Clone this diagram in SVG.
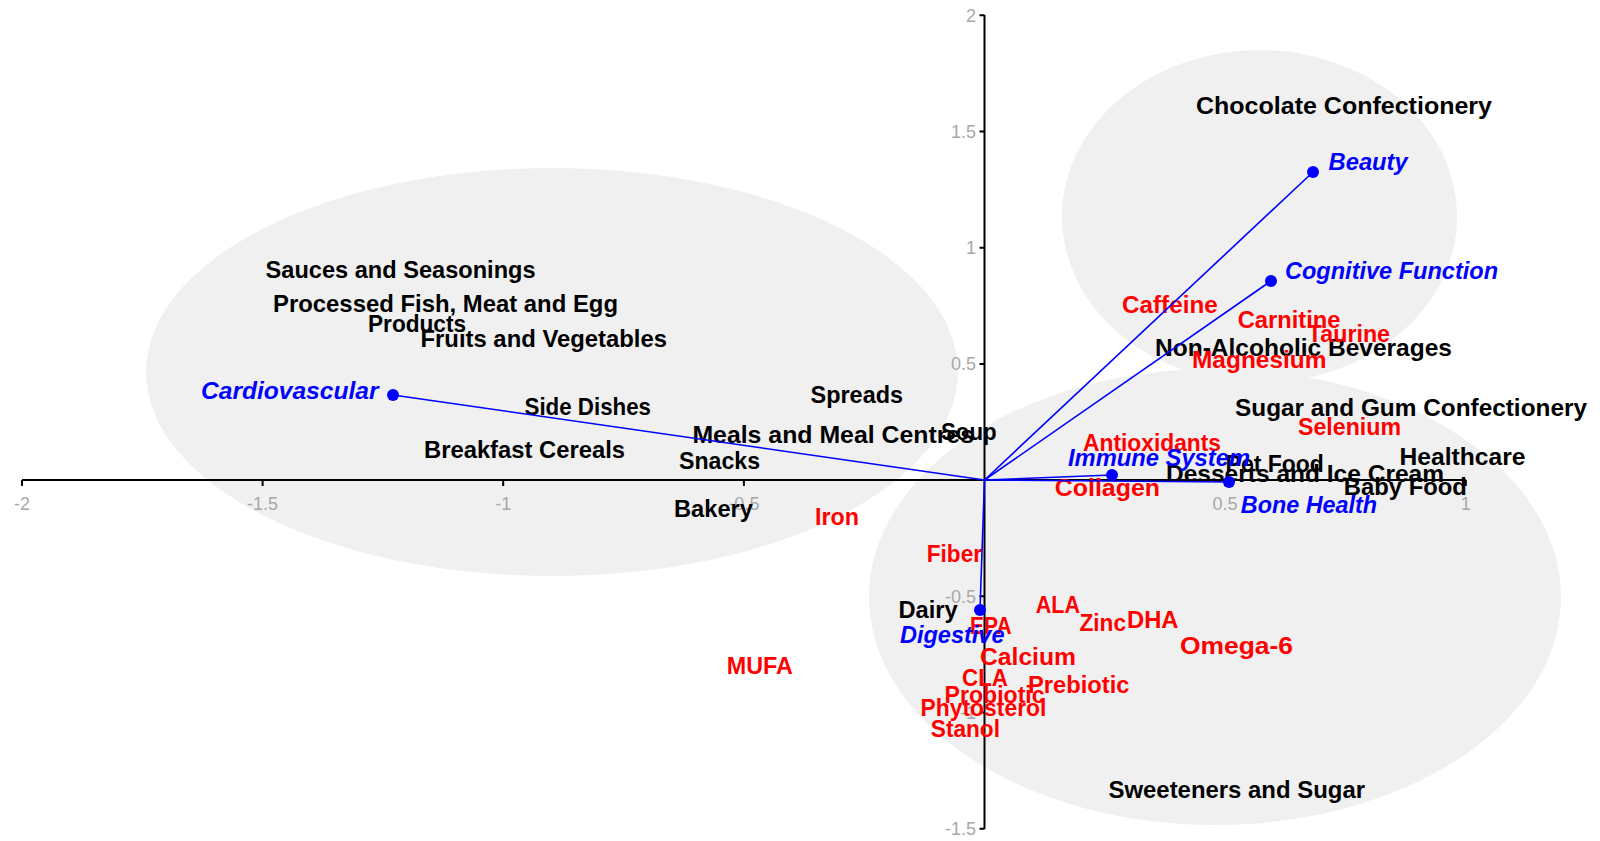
<svg xmlns="http://www.w3.org/2000/svg" width="1600" height="841" viewBox="0 0 1600 841">
  <style>
    text { font-family: "Liberation Sans", Arial, sans-serif; font-weight: bold; font-size: 24px; }
    .cat { fill: #000000; }
    .ing { fill: #ff0000; }
    .ben { fill: #0000ff; font-style: italic; }
    .tick { fill: #a8a8a8; font-weight: normal; font-size: 18px; }
    .ytick { text-anchor: end; }
    .xtick { text-anchor: middle; }
    .zone { fill: #f0f0f0; stroke: none; }
    .axis { stroke: #000000; stroke-width: 2; fill: none; }
    .vec { stroke: #0000ff; stroke-width: 1.6; fill: none; }
    .dot { fill: #0000ff; }
  </style>

  <!-- cluster zones -->
  <g id="zones">
    <ellipse class="zone" cx="552" cy="372" rx="406" ry="204"/>
    <ellipse class="zone" cx="1259.5" cy="216.5" rx="197.5" ry="166.5"/>
    <ellipse class="zone" cx="1215" cy="597" rx="346" ry="228"/>
  </g>

  <!-- axes with ticks -->
  <g id="axes">
    <path class="axis" d="M22 480 H1466 M984.5 15 V829"/>
    <path class="axis" d="M22 480 v6 M262.6 480 v6 M503.2 480 v6 M743.9 480 v6 M1225 480 v6 M1465.8 480 v6"/>
    <path class="axis" d="M984.5 15.3 h-5 M984.5 131.5 h-5 M984.5 247.7 h-5 M984.5 363.9 h-5 M984.5 596.3 h-5 M984.5 712.5 h-5 M984.5 828.7 h-5"/>
    <text class="tick xtick" x="22" y="510">-2</text>
    <text class="tick xtick" x="262.6" y="510">-1.5</text>
    <text class="tick xtick" x="503.2" y="510">-1</text>
    <text class="tick xtick" x="743.9" y="510">-0.5</text>
    <text class="tick xtick" x="1225" y="510">0.5</text>
    <text class="tick xtick" x="1465.8" y="510">1</text>
    <text class="tick ytick" x="976" y="21.8">2</text>
    <text class="tick ytick" x="976" y="138">1.5</text>
    <text class="tick ytick" x="976" y="254.2">1</text>
    <text class="tick ytick" x="976" y="370.4">0.5</text>
    <text class="tick ytick" x="976" y="602.8">-0.5</text>
    <text class="tick ytick" x="976" y="719">-1</text>
    <text class="tick ytick" x="976" y="835.2">-1.5</text>
  </g>

  <!-- product categories -->
  <g id="categories" transform="translate(0 1.5)">
    <g id="cat-chocolate"><text class="cat" x="1196" y="112" textLength="296" lengthAdjust="spacingAndGlyphs">Chocolate Confectionery</text></g>
    <g id="cat-sauces"><text class="cat" x="265.6" y="276" textLength="270" lengthAdjust="spacingAndGlyphs">Sauces and Seasonings</text></g>
    <g id="cat-processed">
      <text class="cat" x="273" y="310" textLength="345" lengthAdjust="spacingAndGlyphs">Processed Fish, Meat and Egg</text>
      <text class="cat" x="368" y="330" textLength="98" lengthAdjust="spacingAndGlyphs">Products</text>
    </g>
    <g id="cat-fruits"><text class="cat" x="420.5" y="345" textLength="246.5" lengthAdjust="spacingAndGlyphs">Fruits and Vegetables</text></g>
    <g id="cat-side"><text class="cat" x="524.5" y="413" textLength="126.5" lengthAdjust="spacingAndGlyphs">Side Dishes</text></g>
    <g id="cat-breakfast"><text class="cat" x="424" y="456" textLength="201" lengthAdjust="spacingAndGlyphs">Breakfast Cereals</text></g>
    <g id="cat-spreads"><text class="cat" x="810.6" y="401" textLength="92.4" lengthAdjust="spacingAndGlyphs">Spreads</text></g>
    <g id="cat-meals"><text class="cat" x="692.4" y="441" textLength="281.6" lengthAdjust="spacingAndGlyphs">Meals and Meal Centres</text></g>
    <g id="cat-soup"><text class="cat" x="941" y="438" textLength="55.6" lengthAdjust="spacingAndGlyphs">Soup</text></g>
    <g id="cat-snacks"><text class="cat" x="679" y="467" textLength="81" lengthAdjust="spacingAndGlyphs">Snacks</text></g>
    <g id="cat-bakery"><text class="cat" x="674" y="515" textLength="79" lengthAdjust="spacingAndGlyphs">Bakery</text></g>
    <g id="cat-sugar-gum"><text class="cat" x="1235" y="414" textLength="352" lengthAdjust="spacingAndGlyphs">Sugar and Gum Confectionery</text></g>
    <g id="cat-healthcare"><text class="cat" x="1399.5" y="463" textLength="126" lengthAdjust="spacingAndGlyphs">Healthcare</text></g>
    <g id="cat-pet"><text class="cat" x="1225.6" y="470" textLength="98.2" lengthAdjust="spacingAndGlyphs">Pet Food</text></g>
    <g id="cat-desserts"><text class="cat" x="1166" y="480" textLength="278" lengthAdjust="spacingAndGlyphs">Desserts and Ice Cream</text></g>
    <g id="cat-baby"><text class="cat" x="1343.8" y="493" textLength="123" lengthAdjust="spacingAndGlyphs">Baby Food</text></g>
    <g id="cat-beverages"><text class="cat" x="1155" y="354" textLength="297" lengthAdjust="spacingAndGlyphs">Non-Alcoholic Beverages</text></g>
    <g id="cat-dairy"><text class="cat" x="898.4" y="616" textLength="59.2" lengthAdjust="spacingAndGlyphs">Dairy</text></g>
    <g id="cat-sweeteners"><text class="cat" x="1108.5" y="796" textLength="256.5" lengthAdjust="spacingAndGlyphs">Sweeteners and Sugar</text></g>
  </g>

  <!-- ingredients -->
  <g id="ingredients" transform="translate(0 1.5)">
    <g id="ing-caffeine"><text class="ing" x="1122" y="311" textLength="95.7" lengthAdjust="spacingAndGlyphs">Caffeine</text></g>
    <g id="ing-carnitine"><text class="ing" x="1237.7" y="326" textLength="102.8" lengthAdjust="spacingAndGlyphs">Carnitine</text></g>
    <g id="ing-taurine"><text class="ing" x="1307.8" y="340" textLength="82.2" lengthAdjust="spacingAndGlyphs">Taurine</text></g>
    <g id="ing-magnesium"><text class="ing" x="1192" y="366" textLength="134.5" lengthAdjust="spacingAndGlyphs">Magnesium</text></g>
    <g id="ing-selenium"><text class="ing" x="1298" y="433" textLength="103" lengthAdjust="spacingAndGlyphs">Selenium</text></g>
    <g id="ing-antioxidants"><text class="ing" x="1083" y="449" textLength="138" lengthAdjust="spacingAndGlyphs">Antioxidants</text></g>
    <g id="ing-collagen"><text class="ing" x="1054.8" y="494" textLength="105.2" lengthAdjust="spacingAndGlyphs">Collagen</text></g>
    <g id="ing-iron"><text class="ing" x="815" y="523" textLength="44" lengthAdjust="spacingAndGlyphs">Iron</text></g>
    <g id="ing-fiber"><text class="ing" x="926.8" y="560" textLength="55.2" lengthAdjust="spacingAndGlyphs">Fiber</text></g>
    <g id="ing-ala"><text class="ing" x="1035.7" y="611" textLength="44.3" lengthAdjust="spacingAndGlyphs">ALA</text></g>
    <g id="ing-zinc"><text class="ing" x="1079.4" y="629" textLength="46.6" lengthAdjust="spacingAndGlyphs">Zinc</text></g>
    <g id="ing-dha"><text class="ing" x="1127" y="626" textLength="51.5" lengthAdjust="spacingAndGlyphs">DHA</text></g>
    <g id="ing-omega6"><text class="ing" x="1180" y="652" textLength="113" lengthAdjust="spacingAndGlyphs">Omega-6</text></g>
    <g id="ing-epa"><text class="ing" x="970" y="632" textLength="41.6" lengthAdjust="spacingAndGlyphs">EPA</text></g>
    <g id="ing-calcium"><text class="ing" x="980" y="663" textLength="96" lengthAdjust="spacingAndGlyphs">Calcium</text></g>
    <g id="ing-cla"><text class="ing" x="962" y="684" textLength="46" lengthAdjust="spacingAndGlyphs">CLA</text></g>
    <g id="ing-prebiotic"><text class="ing" x="1028" y="691" textLength="101.4" lengthAdjust="spacingAndGlyphs">Prebiotic</text></g>
    <g id="ing-probiotic"><text class="ing" x="944.6" y="701" textLength="100" lengthAdjust="spacingAndGlyphs">Probiotic</text></g>
    <g id="ing-phytosterol"><text class="ing" x="920.5" y="714" textLength="125.9" lengthAdjust="spacingAndGlyphs">Phytosterol</text></g>
    <g id="ing-stanol"><text class="ing" x="930.8" y="735" textLength="69.2" lengthAdjust="spacingAndGlyphs">Stanol</text></g>
    <g id="ing-mufa"><text class="ing" x="726.8" y="672" textLength="66.1" lengthAdjust="spacingAndGlyphs">MUFA</text></g>
  </g>

  <!-- benefit vectors from the origin -->
  <g id="connectors">
    <line class="vec" x1="984.5" y1="480" x2="393" y2="395"/>
    <line class="vec" x1="984.5" y1="480" x2="1313" y2="172"/>
    <line class="vec" x1="984.5" y1="480" x2="1271" y2="281"/>
    <line class="vec" x1="984.5" y1="480" x2="1112" y2="475"/>
    <line class="vec" x1="984.5" y1="480" x2="1229" y2="482"/>
    <line class="vec" x1="984.5" y1="480" x2="980" y2="610"/>
  </g>

  <!-- health benefits -->
  <g id="benefits">
    <g id="ben-cardiovascular">
      <circle class="dot" cx="393" cy="395" r="6"/>
      <text class="ben" x="201" y="399" textLength="177.5" lengthAdjust="spacingAndGlyphs">Cardiovascular</text>
    </g>
    <g id="ben-beauty">
      <circle class="dot" cx="1313" cy="172" r="6"/>
      <text class="ben" x="1328.6" y="170" textLength="79" lengthAdjust="spacingAndGlyphs">Beauty</text>
    </g>
    <g id="ben-cognitive">
      <circle class="dot" cx="1271" cy="281" r="6"/>
      <text class="ben" x="1285" y="279" textLength="213" lengthAdjust="spacingAndGlyphs">Cognitive Function</text>
    </g>
    <g id="ben-immune">
      <circle class="dot" cx="1112" cy="475" r="6"/>
      <text class="ben" x="1068" y="466" textLength="182" lengthAdjust="spacingAndGlyphs">Immune System</text>
    </g>
    <g id="ben-bone">
      <circle class="dot" cx="1229" cy="482" r="6"/>
      <text class="ben" x="1240.8" y="513" textLength="136.2" lengthAdjust="spacingAndGlyphs">Bone Health</text>
    </g>
    <g id="ben-digestive">
      <circle class="dot" cx="980" cy="610" r="6"/>
      <text class="ben" x="900" y="643" textLength="104.5" lengthAdjust="spacingAndGlyphs">Digestive</text>
    </g>
  </g>
</svg>
